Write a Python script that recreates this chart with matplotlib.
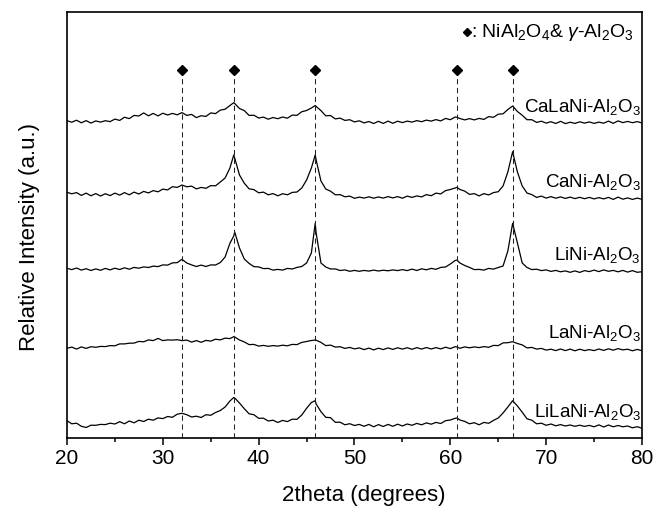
#!/usr/bin/env python3

"""Stacked XRD patterns of the promoted Ni-Al2O3 catalysts."""

import matplotlib
matplotlib.use('Agg')
import matplotlib.pyplot as plt
import numpy as np
from matplotlib.ticker import MultipleLocator

# 2theta grid: 20..80 deg in 0.5 deg steps, plus the apex of three reflections
GRID_START = 20.0
GRID_STEP = 0.5
apex_pos = [37.4, 45.9, 60.7]

# reference reflections NiAl2O4 / gamma-Al2O3
ref_peaks = [32.0, 37.4, 45.9, 60.7, 66.5]

samples = ['CaLaNi-Al$_2$O$_3$', 'CaNi-Al$_2$O$_3$', 'LiNi-Al$_2$O$_3$',
           'LaNi-Al$_2$O$_3$', 'LiLaNi-Al$_2$O$_3$']

# intensities (a.u.), one row = 5 deg
calani = [17.3, 15.8, 17.8, 15.2, 17.4, 14.9, 17.1, 15.9, 17.3, 16.4,
          18.9, 17.6, 20.8, 19.4, 22.6, 22.0, 25.1, 22.2, 24.6, 22.1,
          24.8, 23.0, 24.6, 23.2, 25.4, 22.6, 23.6, 20.4, 22.3, 21.6,
          25.1, 24.4, 27.9, 28.8, 32.5, 34.5, 29.5, 27.4, 22.6, 22.8,
          20.0, 20.9, 18.8, 20.5, 19.3, 21.0, 19.8, 22.9, 22.7, 26.3,
          27.5, 30.0, 31.5, 27.4, 22.2, 22.5, 19.1, 19.9, 17.6, 18.3,
          16.1, 17.2, 15.1, 16.5, 14.5, 16.7, 14.6, 16.9, 14.7, 16.8,
          15.4, 16.9, 15.9, 17.4, 16.3, 17.9, 16.9, 18.4, 17.1, 19.6,
          18.3, 21.0, 19.5, 18.1, 19.4, 18.1, 19.6, 18.6, 21.4, 20.7,
          23.8, 24.2, 28.5, 32.0, 26.5, 22.8, 18.3, 18.3, 15.6, 16.8,
          14.9, 16.3, 14.5, 16.7, 14.4, 15.8, 14.6, 16.2, 14.9, 16.1,
          14.6, 15.9, 14.8, 16.9, 14.7, 17.1, 15.4, 16.6, 15.3, 16.4,
          15.0]
calani_apex = [35.3, 32.5, 20.7]

cani = [15.7, 14.2, 15.4, 12.6, 14.9, 12.2, 14.4, 12.0, 14.3, 12.4,
        14.9, 12.9, 15.4, 13.2, 15.9, 14.0, 16.6, 15.1, 17.4, 16.2,
        18.9, 18.1, 21.3, 20.6, 23.0, 21.2, 21.9, 19.1, 20.6, 19.7,
        22.4, 22.2, 26.0, 30.0, 40.0, 50.0, 33.0, 24.8, 19.2, 18.4,
        15.2, 15.9, 13.2, 14.4, 12.2, 14.3, 13.2, 15.6, 16.0, 20.0,
        28.0, 40.0, 48.0, 27.0, 19.0, 16.8, 13.2, 13.4, 11.2, 11.9,
        9.7, 10.9, 9.9, 11.2, 9.8, 11.1, 9.9, 11.4, 10.1, 11.4,
        9.8, 11.9, 10.6, 12.1, 11.1, 13.4, 12.3, 14.9, 14.1, 17.4,
        18.5, 20.0, 18.5, 16.9, 13.6, 14.4, 12.1, 14.4, 13.1, 15.4,
        16.3, 22.0, 36.0, 56.3, 36.0, 22.0, 15.0, 13.4, 10.6, 11.9,
        9.9, 11.4, 9.8, 11.1, 9.6, 10.9, 9.4, 10.7, 9.3, 10.6,
        9.1, 10.4, 9.1, 10.6, 8.6, 10.9, 8.8, 10.1, 8.6, 9.9,
        8.7]
cani_apex = [53.0, 53.0, 20.7]

lini = [14.7, 13.4, 15.0, 12.9, 14.3, 12.5, 14.1, 12.7, 14.6, 13.1,
        14.8, 13.5, 15.2, 13.8, 15.6, 14.8, 16.1, 15.5, 16.9, 16.4,
        18.1, 17.9, 20.1, 20.4, 23.7, 20.0, 18.1, 16.5, 17.9, 16.5,
        18.1, 18.0, 20.5, 26.0, 39.7, 51.0, 35.0, 24.0, 19.6, 16.4,
        16.1, 14.4, 14.6, 12.9, 13.6, 12.9, 14.6, 14.0, 15.6, 16.5,
        20.0, 30.0, 50.0, 20.0, 16.0, 14.0, 14.1, 12.5, 13.1, 11.7,
        12.6, 11.7, 12.6, 11.9, 12.9, 12.0, 12.8, 12.2, 13.1, 12.4,
        13.4, 12.4, 13.9, 12.5, 14.2, 13.2, 14.6, 13.7, 15.6, 16.0,
        19.0, 22.5, 20.0, 17.5, 15.6, 13.4, 13.6, 12.9, 14.6, 13.9,
        15.5, 17.0, 32.0, 59.7, 40.0, 20.0, 15.5, 13.4, 13.8, 12.4,
        13.1, 11.6, 12.6, 11.2, 12.1, 10.7, 12.1, 10.6, 12.4, 11.4,
        12.9, 11.4, 13.1, 11.7, 12.6, 11.2, 12.6, 10.9, 12.4, 10.7,
        11.3]
lini_apex = [47.0, 59.7, 23.0]

lani = [14.7, 15.9, 13.9, 16.1, 14.6, 16.3, 15.7, 16.6, 16.4, 17.4,
        17.2, 19.1, 19.1, 19.8, 19.9, 21.6, 21.2, 23.1, 22.4, 24.6,
        22.4, 23.1, 22.9, 23.3, 22.4, 22.9, 20.9, 22.4, 20.7, 22.6,
        21.9, 23.8, 23.1, 24.9, 24.4, 26.0, 23.0, 21.1, 18.4, 18.6,
        16.9, 17.6, 16.7, 17.4, 16.9, 17.8, 17.2, 18.6, 18.4, 20.6,
        21.5, 22.5, 22.8, 20.6, 17.4, 17.9, 15.9, 16.3, 14.6, 15.6,
        14.1, 15.1, 13.4, 14.9, 13.1, 14.8, 13.4, 15.1, 13.6, 15.2,
        13.9, 15.3, 13.7, 15.4, 13.9, 15.5, 14.0, 15.4, 14.1, 15.8,
        14.4, 16.3, 14.7, 16.1, 15.2, 16.1, 15.4, 16.4, 15.7, 17.6,
        17.4, 20.1, 20.3, 21.3, 19.5, 18.1, 15.1, 15.6, 13.9, 14.6,
        12.9, 13.8, 12.4, 14.0, 12.4, 13.9, 12.2, 13.8, 12.4, 13.4,
        12.4, 14.0, 12.6, 14.2, 12.8, 14.4, 13.1, 13.8, 12.2, 13.6,
        12.3]
lani_apex = [26.3, 23.0, 16.0]

lilani = [17.3, 14.2, 14.8, 11.7, 10.5, 12.8, 12.7, 13.6, 13.4, 14.8,
          14.0, 16.3, 14.2, 17.0, 15.2, 17.8, 16.5, 18.8, 17.8, 20.1,
          19.4, 21.5, 20.7, 23.8, 24.7, 23.3, 21.0, 21.8, 20.5, 23.3,
          22.7, 25.5, 27.5, 31.0, 37.0, 40.0, 35.0, 29.3, 24.2, 23.3,
          19.7, 19.8, 17.0, 17.8, 15.5, 17.6, 16.4, 18.8, 18.7, 23.0,
          29.7, 35.5, 34.0, 26.3, 20.7, 20.3, 15.7, 15.8, 13.2, 14.3,
          12.5, 13.6, 11.7, 13.6, 11.2, 13.4, 11.5, 13.6, 11.7, 13.8,
          12.0, 14.0, 12.7, 14.6, 13.2, 15.1, 13.8, 15.6, 14.5, 17.3,
          18.0, 19.7, 18.0, 16.6, 14.2, 15.3, 13.2, 15.6, 14.7, 17.6,
          20.0, 25.0, 31.0, 37.3, 32.0, 25.8, 19.2, 17.8, 14.2, 14.8,
          12.7, 14.0, 12.2, 13.4, 12.0, 13.0, 11.7, 12.8, 11.6, 12.6,
          11.2, 13.1, 11.0, 13.0, 11.2, 12.5, 11.2, 12.0, 10.2, 11.3,
          9.7]
lilani_apex = [40.5, 37.3, 20.0]


def plot_graph(output_file):
    """
    Draw the stacked patterns
    """
    patterns = [calani, cani, lini, lani, lilani]
    apexes = [calani_apex, cani_apex, lini_apex, lani_apex, lilani_apex]
    # vertical stacking of the patterns
    offsets = [300, 230, 155, 75, 0]
    label_y = [326, 251, 178, 100, 21]

    plt.rcParams['font.family'] = ['Liberation Sans', 'DejaVu Sans']
    plt.rcParams['mathtext.fontset'] = 'custom'
    plt.rcParams['mathtext.rm'] = 'Liberation Sans'
    plt.rcParams['mathtext.it'] = 'Liberation Sans:italic'
    plt.rcParams['mathtext.default'] = 'regular'

    fig = plt.figure(figsize=(6.58, 5.07), dpi=100)
    ax1 = fig.add_axes([0.1018, 0.1361, 0.8739, 0.8402])

    grid = GRID_START + GRID_STEP * np.arange(len(calani))
    two_theta = np.concatenate([grid, apex_pos])
    order = np.argsort(two_theta, kind='stable')

    for name, pat, apx, off, ly in zip(samples, patterns, apexes, offsets, label_y):
        intens = np.concatenate([pat, apx])
        ax1.plot(two_theta[order], intens[order] + off,
                 color='black', linewidth=0.9)
        ax1.text(79.9, ly, name, ha='right', va='baseline', fontsize=13.5)

    # reference reflections
    mark_y = 368
    ax1.vlines(ref_peaks, 0, mark_y, colors='#222222', linewidth=0.75,
               linestyles=(0, (5, 3.5)))
    ax1.plot(ref_peaks, [mark_y] * len(ref_peaks), 'D', color='black',
             markersize=5)

    # legend line top right
    ax1.plot([61.75], [406], 'D', color='black', markersize=3.8)
    ax1.text(62.2, 406, r': NiAl$_2$O$_4$& $\mathit{\gamma}$-Al$_2$O$_3$',
             ha='left', va='center', fontsize=14)

    ax1.set_xlim(20, 80)
    ax1.set_ylim(0, 426)
    ax1.set_yticks([])
    ax1.xaxis.set_major_locator(MultipleLocator(10))
    ax1.xaxis.set_minor_locator(MultipleLocator(5))
    ax1.tick_params(axis='x', which='major', direction='out', length=5,
                    width=1.1, labelsize=15, pad=3)
    ax1.tick_params(axis='x', which='minor', direction='out', length=3,
                    width=1.1)
    for spine in ax1.spines.values():
        spine.set_linewidth(1.2)

    ax1.set_xlabel('2theta (degrees)', fontsize=16)
    ax1.set_ylabel('Relative Intensity (a.u.)', fontsize=16)
    ax1.xaxis.set_label_coords(0.516, -0.111)
    ax1.yaxis.set_label_coords(-0.047, 0.473)

    plt.savefig(fname=output_file, format='png', dpi=100)


def main():
    """
    This is the main loop
    """
    plot_graph('out.png')


if __name__ == "__main__":
    main()
